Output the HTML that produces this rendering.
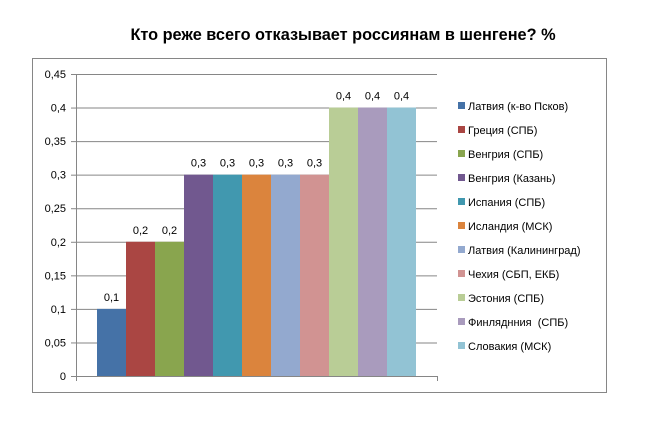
<!DOCTYPE html>
<html><head><meta charset="utf-8"><style>
body{margin:0;background:#fff;font-family:"Liberation Sans","DejaVu Sans",sans-serif}
</style></head><body>
<svg width="659" height="442" xmlns="http://www.w3.org/2000/svg" id="svg">
<rect x="32.5" y="58.5" width="574" height="334" fill="#fff" stroke="#868686"/>
<text x="343" y="40" text-anchor="middle" font-size="16.3" font-weight="bold" fill="#000">Кто реже всего отказывает россиянам в шенгене? %</text>
<g id="grid"></g><g id="bars"></g><g id="axes"></g><g id="legend"></g>
</svg>
<script>
const categories=["Латвия (к-во Псков)","Греция (СПБ)","Венгрия (СПБ)","Венгрия (Казань)","Испания (СПБ)","Исландия (МСК)","Латвия (Калининград)","Чехия (СБП, ЕКБ)","Эстония (СПБ)","Финляднния\u00a0 (СПБ)","Словакия (МСК)"];
const values=[0.1,0.2,0.2,0.3,0.3,0.3,0.3,0.3,0.4,0.4,0.4];
const valueLabels=["0,1","0,2","0,2","0,3","0,3","0,3","0,3","0,3","0,4","0,4","0,4"];
const yTicks=[0,0.05,0.1,0.15,0.2,0.25,0.3,0.35,0.4,0.45];
const yTickLabels=["0","0,05","0,1","0,15","0,2","0,25","0,3","0,35","0,4","0,45"];
const colors=["#4572a7","#aa4643","#89a54e","#71588f","#4198af","#db843d","#93a9cf","#d19392","#b9cd96","#a99bbd","#92c3d4"];
const NS="http://www.w3.org/2000/svg";
const L=76,R=437,T=74,B=376,ymax=0.45;
const y=v=>B-(v/ymax)*(B-T);
function mk(p,tag,a,txt){const e=document.createElementNS(NS,tag);for(const k in a)e.setAttribute(k,a[k]);if(txt!=null)e.textContent=txt;document.getElementById(p).appendChild(e);return e;}
yTicks.forEach((t,i)=>{
  if(t>0){const g=mk('grid','line',{x1:L,x2:R,y1:y(t)+.5,y2:y(t)+.5,stroke:'#868686'});
  
  }
  const tk=mk('axes','line',{x1:L-5,x2:L,y1:y(t)+.5,y2:y(t)+.5,stroke:'#868686'});
  
  
  const lb=mk('axes','text',{x:L-10,y:y(t)+4,'text-anchor':'end','font-size':11,fill:'#000'},yTickLabels[i]);
  
  
});
const n=values.length,bw=29,start=L+((R-L)-n*bw)/2;
values.forEach((v,i)=>{
  const x=start+i*bw;
  const r=mk('bars','rect',{x:x,y:y(v),width:bw,height:B-y(v),fill:colors[i]});
  
  
  const t=mk('bars','text',{x:x+bw/2,y:y(v)-8,'text-anchor':'middle','font-size':11,fill:'#000'},valueLabels[i]);
  
  
});
const ya=mk('axes','line',{x1:L+.5,x2:L+.5,y1:T,y2:B+5,stroke:'#868686'});


const xa=mk('axes','line',{x1:L,x2:R,y1:B+.5,y2:B+.5,stroke:'#868686'});


const xr=mk('axes','line',{x1:R+.5,x2:R+.5,y1:B,y2:B+5,stroke:'#868686'});


categories.forEach((c,i)=>{
  const yy=106+i*24;
  const s=mk('legend','rect',{x:458,y:yy-4,width:7,height:7,fill:colors[i]});
  
  
  const t=mk('legend','text',{x:468,y:yy+4,'font-size':11,fill:'#000'},c);
  
  
});
</script>
</body></html>
